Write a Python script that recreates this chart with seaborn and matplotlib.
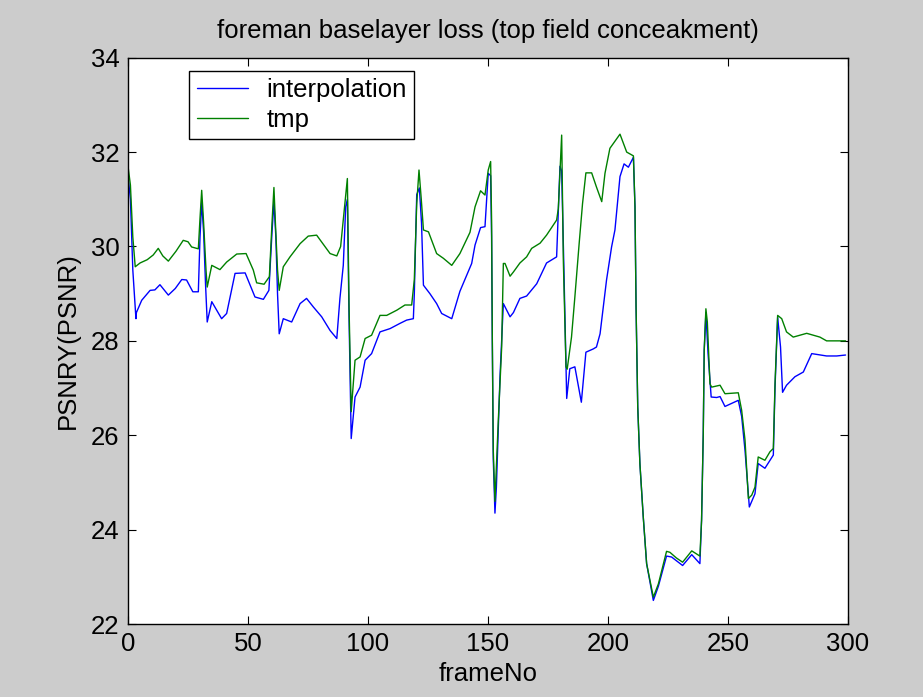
import matplotlib
matplotlib.use("Agg")
import matplotlib.pyplot as plt
import seaborn as sns
import pandas as pd

# frame numbers / PSNR values
frames_interp = [0, 1, 2, 3.3, 3.5, 5.7, 9.2, 11.2, 13.3, 16.8, 19.7, 22.4, 24.4, 27, 29.3,
                 30, 30.7, 31.5, 32.3, 33, 34.9, 39, 41.1, 44.6, 48.8, 52.9, 56.4, 58.7,
                 60, 60.8, 61.6, 62.3, 63, 64.7, 68.2, 71.7, 74.4, 77.2, 80.7, 84.2, 87,
                 88.3, 89.7, 90.7, 91.4, 92.1, 93, 94.6, 96.7, 98.8, 101.5, 105, 109.2,
                 113.3, 116.1, 118.9, 119.3, 120.3, 121.4, 122.3, 123.1, 125.8, 128.6,
                 130.7, 134.9, 138.3, 143.2, 144.6, 146.9, 148.75, 150.1, 151.1, 151.5,
                 151.8, 152.2, 152.9, 153.5, 155, 156.4, 157.8, 159.2, 160.6, 163.3,
                 166.1, 170.3, 174.4, 178.6, 180, 180.7, 181.6, 182.8, 184.1, 186.2,
                 187.5, 188.9, 190.8, 193.9, 195.2, 196.7, 199.4, 201.5, 202.9, 205,
                 206.7, 208.5, 210.6, 211.25, 211.7, 212.4, 213.3, 214.7, 216.1, 218.9,
                 221, 224.4, 226.5, 231.1, 234.9, 238.3, 239, 239.7, 240.1, 240.8, 241.7,
                 243, 245.3, 246.7, 248.75, 254.3, 255.7, 257.1, 258.9, 261.25, 262.6,
                 265.4, 268.9, 269.6, 270.7, 271.9, 272.75, 274.4, 277.9, 281.4, 284.9,
                 291.1, 295.3, 299]
psnr_interp = [31.5, 31.0, 29.5, 28.47, 28.6, 28.86, 29.07, 29.08, 29.19, 28.97, 29.11,
               29.30, 29.29, 29.04, 29.04, 30.2, 30.95, 30.3, 29.2, 28.4, 28.83, 28.47,
               28.58, 29.43, 29.44, 28.93, 28.88, 29.07, 30.3, 30.95, 30.2, 29.0, 28.15,
               28.47, 28.4, 28.79, 28.9, 28.72, 28.51, 28.22, 28.05, 28.9, 29.6, 30.84,
               31.0, 28.5, 25.93, 26.81, 27.02, 27.59, 27.73, 28.19, 28.26, 28.37, 28.44,
               28.47, 29.0, 31.1, 31.24, 30.5, 29.18, 29.0, 28.79, 28.58, 28.47, 29.05,
               29.64, 30.03, 30.4, 30.42, 31.55, 31.5, 30.2, 28.0, 25.5, 24.35, 24.9,
               27.24, 28.79, 28.65, 28.51, 28.6, 28.9, 28.95, 29.21, 29.65, 29.78, 31.7,
               31.6, 29.6, 26.78, 27.41, 27.45, 27.09, 26.7, 27.76, 27.83, 27.87, 28.15,
               29.29, 29.99, 30.35, 31.48, 31.75, 31.68, 31.89, 30.84, 28.72, 26.6, 25.4,
               24.27, 23.28, 22.5, 22.8, 23.44, 23.42, 23.24, 23.47, 23.28, 24.2, 26.03,
               27.8, 28.6, 27.73, 26.81, 26.8, 26.82, 26.61, 26.74, 26.4, 25.68, 24.48,
               24.76, 25.4, 25.3, 25.58, 27.0, 28.5, 27.87, 26.91, 27.06, 27.24, 27.34,
               27.73, 27.68, 27.68, 27.7]

frames_tmp = [0, 1, 2, 3, 5, 8, 10.5, 12.6, 14.5, 16.8, 20, 23, 25, 26.5, 29.3, 30, 30.7,
              31.5, 32.5, 33, 34.9, 38.3, 41.1, 45.3, 49.2, 52.2, 53.6, 56.7, 58.9, 60,
              60.8, 61.5, 62.3, 63, 64.7, 67.5, 71.7, 75.1, 78.6, 84.2, 87, 88.6, 89.7,
              91.4, 92.1, 93, 94.6, 96.7, 98.8, 101.5, 105, 107.8, 112, 115.4, 118.2,
              119.3, 120.3, 121.25, 122.2, 123.1, 125.2, 128.6, 131.4, 134.9, 138.3,
              142.5, 144.6, 146.9, 148.75, 150.1, 151.1, 151.5, 151.8, 152.2, 152.9,
              154.3, 155.7, 156.4, 157.1, 159.2, 160.6, 163.3, 166.1, 168.2, 171.7,
              174.4, 178.6, 179.3, 180.7, 181.4, 182.5, 183.0, 184.8, 186.2, 188, 189.4,
              190.8, 193.2, 195.2, 197.4, 198.75, 200.8, 205, 207.8, 210.6, 211.25,
              211.7, 212.4, 213.3, 214.7, 216.1, 218.9, 221, 224.4, 225.8, 228.5, 231.1,
              234.9, 238.3, 239, 239.7, 240.1, 240.8, 241.4, 242.5, 243.2, 246.7, 248.75,
              254.3, 255.7, 257.1, 258.5, 259.9, 261.25, 262.6, 265.4, 267.5, 268.9,
              269.6, 270.7, 272.4, 274.4, 277.2, 282.8, 288.3, 291.1, 299]
psnr_tmp = [31.7, 31.3, 30.2, 29.57, 29.65, 29.72, 29.82, 29.96, 29.8, 29.69, 29.9, 30.13,
            30.1, 29.99, 29.95, 30.6, 31.19, 30.5, 29.5, 29.14, 29.6, 29.51, 29.67, 29.84,
            29.85, 29.5, 29.23, 29.2, 29.36, 30.5, 31.25, 30.4, 29.5, 29.07, 29.57, 29.78,
            30.06, 30.22, 30.24, 29.85, 29.8, 30.0, 30.56, 31.44, 28.72, 26.5, 27.59,
            27.66, 28.05, 28.12, 28.54, 28.54, 28.65, 28.76, 28.76, 29.3, 30.9, 31.62,
            31.0, 30.35, 30.31, 29.85, 29.75, 29.6, 29.85, 30.3, 30.84, 31.18, 31.09,
            31.62, 31.8, 30.56, 28.08, 25.68, 24.6, 26.32, 27.87, 29.64, 29.64, 29.37,
            29.46, 29.65, 29.78, 29.96, 30.07, 30.24, 30.56, 30.8, 32.36, 29.7, 27.45,
            27.4, 28.08, 28.93, 30.07, 30.91, 31.56, 31.56, 31.26, 30.95, 31.55, 32.08,
            32.38, 32.0, 31.92, 30.84, 28.72, 26.6, 25.4, 24.27, 23.28, 22.57, 22.85,
            23.54, 23.52, 23.4, 23.31, 23.55, 23.44, 24.2, 26.03, 27.8, 28.68, 28.4,
            27.09, 27.02, 27.06, 26.88, 26.9, 26.53, 25.9, 24.66, 24.73, 24.9, 25.54,
            25.47, 25.65, 25.72, 27.09, 28.54, 28.47, 28.19, 28.08, 28.16, 28.08, 28.0,
            28.0]

df = pd.concat([
    pd.DataFrame({'frameNo': frames_interp, 'psnr': psnr_interp, 'series': 'interpolation'}),
    pd.DataFrame({'frameNo': frames_tmp, 'psnr': psnr_tmp, 'series': 'tmp'}),
])

sns.set_style('ticks')
plt.rcParams['font.family'] = ['Liberation Sans', 'DejaVu Sans']
plt.rcParams['xtick.direction'] = 'in'
plt.rcParams['ytick.direction'] = 'in'
for k in ['text.color', 'axes.labelcolor', 'xtick.color', 'ytick.color']:
    plt.rcParams[k] = 'black'

fig = plt.figure(figsize=(9.23, 6.97), dpi=100, facecolor='#cccccc')
ax = fig.add_axes([0.1387, 0.1047, 0.78, 0.8125])
ax.set_facecolor('white')

sns.lineplot(data=df, x='frameNo', y='psnr', hue='series', sort=False, estimator=None,
             palette={'interpolation': '#0000ff', 'tmp': '#008000'}, linewidth=1, ax=ax)

ax.set_xlim(0, 300)
ax.set_ylim(22, 34)
ax.set_xticks(range(0, 301, 50))
ax.set_yticks(range(22, 35, 2))
ax.tick_params(labelsize=18.5, length=6, width=0.8, color='black', pad=6,
               top=True, right=True)
for s in ax.spines.values():
    s.set_visible(True)
    s.set_color('black')
    s.set_linewidth(1)

ax.set_xlabel('frameNo', fontsize=18.5, labelpad=4)
ax.set_ylabel('PSNRY(PSNR)', fontsize=18.5, labelpad=8)
ax.set_title('foreman baselayer loss (top field conceakment)', fontsize=18.5, pad=14)

h, l = ax.get_legend_handles_labels()
leg = ax.legend(h, l, loc='upper left', bbox_to_anchor=(0.085, 0.977), borderaxespad=0,
                fontsize=18.5, frameon=True, fancybox=False, framealpha=1,
                edgecolor='black', handlelength=2.0, handletextpad=0.7,
                labelspacing=0.2, borderpad=0.3)
leg.get_frame().set_linewidth(1)

fig.savefig('out.png', dpi=100, facecolor=fig.get_facecolor())
